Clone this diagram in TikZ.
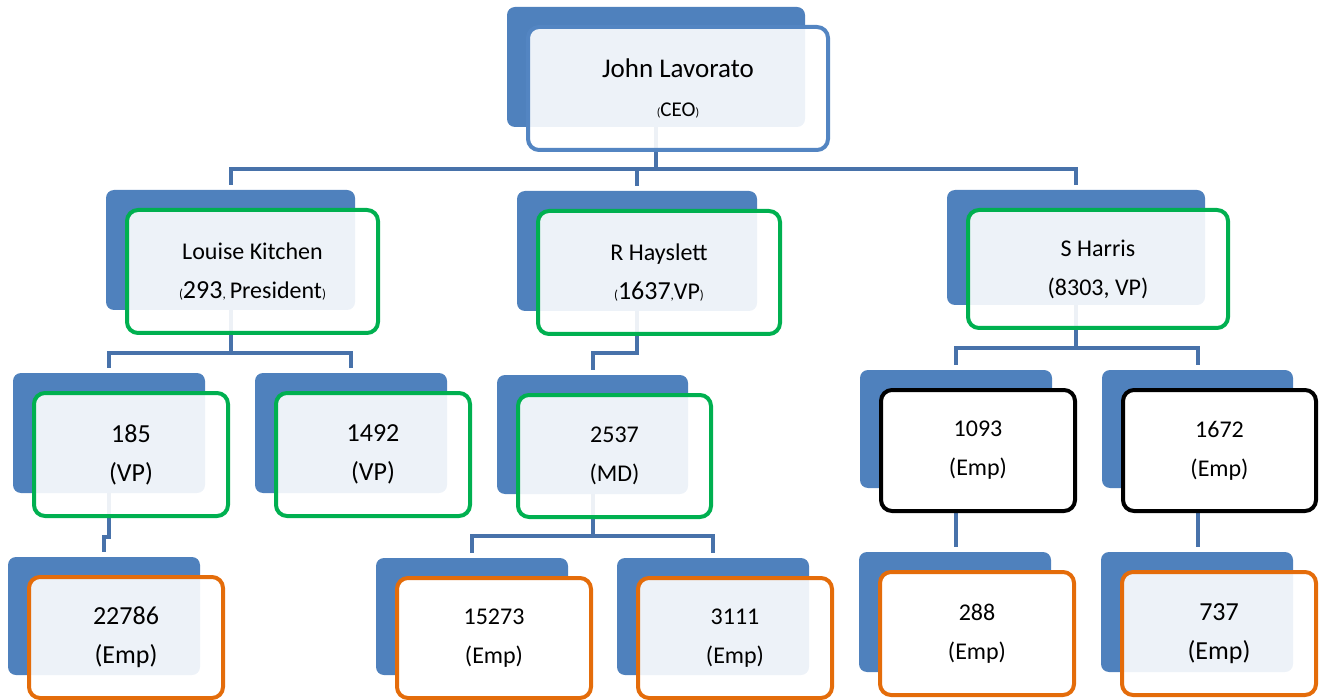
\documentclass[tikz,border=0pt]{standalone}
\usepackage{fontspec}
\setmainfont{Carlito}
\usetikzlibrary{calc}
\pgfdeclarelayer{bg}
\pgfsetlayers{bg,main}
\definecolor{bk}{HTML}{4F81BD}
\definecolor{ln}{HTML}{4872AA}
\definecolor{ceoline}{HTML}{5385C2}
\definecolor{grn}{HTML}{00B050}
\definecolor{org}{HTML}{E46C0A}
\newcommand\fsz[1]{\fontsize{#1}{39}\selectfont}
\tikzset{
  back/.style={rectangle, rounded corners=8pt, fill=bk, inner sep=0pt, outer sep=0pt},
  front/.style={rectangle, rounded corners=11pt, line width=4pt, fill=white,
    text opacity=1, align=center, font=\fsz{24}, inner sep=0pt, outer sep=0pt},
  link/.style={draw=ln, line width=4pt, shorten >=5pt},
}
% name, x1, y1, x2, y2 (back box), frame colour, fill opacity, text
\newcommand\orgunit[8]{%
  \node[back, minimum width={#4-#2}, minimum height={#5-#3}] (#1) at ({(#2+#4)/2},{(#3+#5)/2}) {};
  \node[front, draw=#6, fill opacity=#7, minimum width={#4-#2+2}, minimum height={#5-#3+3}]
     (#1F) at ({(#2+#4)/2+22},{(#3+#5)/2+21.5}) {#8};
}
\begin{document}
\begin{tikzpicture}[x=1pt,y=-1pt]
\useasboundingbox (0,0) rectangle (1319,700);
\orgunit{ceo}{507}{7}{805}{127}{ceoline}{0.9}{{\fsz{27}John Lavorato}\\{\fsz{12}(}{\fsz{21}CEO}{\fsz{12})}}
\orgunit{lk}{106}{190}{355}{310}{grn}{0.9}{Louise Kitchen\\{\fsz{13}(}{\fsz{26}293}{\fsz{13},}\,President{\fsz{13})}}
\orgunit{rh}{517}{191}{757}{311}{grn}{0.9}{R Hayslett\\{\fsz{13}(}{\fsz{26}1637}{\fsz{13},}VP{\fsz{13})}}
\orgunit{sh}{947}{190}{1205}{305}{grn}{0.9}{S Harris\\(8303, VP)}
\orgunit{vpa}{13}{373}{205}{493}{grn}{0.9}{\fsz{26}185\\\fsz{26}(VP)}
\orgunit{vpb}{255}{373}{447}{493}{grn}{0.9}{\fsz{26}1492\\\fsz{26}(VP)}
\orgunit{md}{497}{375}{688}{494}{grn}{0.9}{2537\\(MD)}
\orgunit{ea}{860}{370}{1052}{488}{black}{1}{1093\\(Emp)}
\orgunit{eb}{1102}{370}{1293}{488}{black}{1}{1672\\(Emp)}
\orgunit{ec}{8}{557}{200}{675}{org}{0.9}{\fsz{26}22786\\\fsz{26}(Emp)}
\orgunit{ed}{376}{558}{568}{675}{org}{1}{15273\\(Emp)}
\orgunit{ee}{617}{558}{809}{675}{org}{0.9}{3111\\(Emp)}
\orgunit{ef}{859}{552}{1051}{672}{org}{1}{288\\(Emp)}
\orgunit{eg}{1101}{552}{1293}{672}{org}{0.9}{\fsz{26}737\\\fsz{26}(Emp)}
\begin{pgfonlayer}{bg}
  \draw[link] (ceo.south) -- ++(0,42) -| (lk.north);
  \draw[link] (ceo.south) -- ++(0,42) -| (rh.north);
  \draw[link] (ceo.south) -- ++(0,42) -| (sh.north);
  \draw[link] (lk.south) -- ++(0,43) -| (vpa.north);
  \draw[link] (lk.south) -- ++(0,43) -| (vpb.north);
  \draw[link] (rh.south) -- ++(0,42) -| (md.north);
  \draw[link] (sh.south) -- ++(0,43) -| (ea.north);
  \draw[link] (sh.south) -- ++(0,43) -| (eb.north);
  \draw[link] (md.south) -- ++(0,42) -| (ed.north);
  \draw[link] (md.south) -- ++(0,42) -| (ee.north);
  \draw[link] (vpa.south) -- ++(0,44) -| (ec.north);
  \draw[link] (ea.south) -- (ea.south |- ef.north);
  \draw[link] (eb.south) -- (eb.south |- eg.north);
\end{pgfonlayer}
\end{tikzpicture}
\end{document}
